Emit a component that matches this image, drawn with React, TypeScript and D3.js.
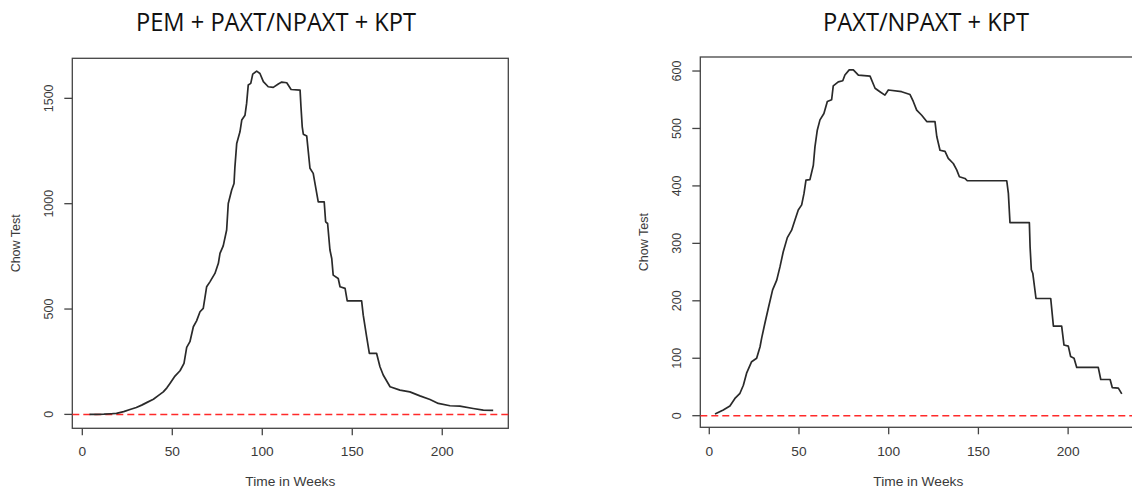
import React from "react";
import * as d3 from "d3";

// ---- Data ----
const leftTitle = "PEM + PAXT/NPAXT + KPT";
const rightTitle = "PAXT/NPAXT + KPT";
const xLabel = "Time in Weeks";
const yLabel = "Chow Test";

const xTicks = [0, 50, 100, 150, 200];
const leftYTicks = [0, 500, 1000, 1500];
const rightYTicks = [0, 100, 200, 300, 400, 500, 600];

const leftWeeks = [4, 8, 12, 16, 19, 23, 26.5, 30, 33, 36, 39.5, 42, 45, 47, 48.7, 51.5, 54.3, 56.5, 58, 59.8, 61.7, 63.5, 65.4, 67.2, 69.1, 70.9, 73.7, 75.6, 76.5, 78.3, 80.2, 81.1, 83, 84.3, 84.8, 85.8, 87.6, 88.6, 90.4, 91.3, 92.2, 93.6, 94.7, 96.9, 98.7, 100.6, 103.3, 106.1, 108.9, 110.8, 113.6, 116, 121, 121.5, 122.2, 122.8, 124.7, 126.5, 128.3, 131.1, 134.4, 135.2, 136.3, 137.6, 138.6, 139.4, 142.2, 143.2, 146, 147.2, 155.2, 156.1, 158, 159.5, 163.5, 165.4, 167.2, 171, 176.5, 182, 187.6, 193.2, 197.8, 204.3, 209.8, 217.2, 222.8, 228.3];
const leftChow = [0, 0, 1, 3, 5, 13, 23, 33, 44, 57, 72, 88, 107, 126, 147, 182, 207, 242, 318, 345, 416, 444, 487, 503, 606, 629, 669, 717, 764, 800, 875, 1001, 1065, 1096, 1175, 1286, 1341, 1397, 1420, 1476, 1563, 1571, 1615, 1629, 1618, 1579, 1555, 1552, 1568, 1577, 1574, 1542, 1539, 1460, 1365, 1330, 1321, 1168, 1144, 1009, 1009, 914, 906, 780, 740, 661, 645, 606, 598, 539, 539, 471, 368, 290, 290, 226, 187, 131, 115, 107, 88, 71, 52, 41, 39, 28, 20, 19];

const rightWeeks = [3.2, 7.8, 11.5, 14.3, 17.1, 19, 20.8, 23.6, 26.4, 28.3, 29.2, 31, 32.9, 35.3, 37.6, 39.4, 41.2, 43.5, 45.9, 47.8, 49.6, 51.5, 52.8, 53.9, 56.1, 58, 58.9, 60.2, 61.7, 63.9, 65.8, 68.2, 69.1, 71.9, 74.4, 75.6, 78, 80.3, 83.1, 89.6, 92.4, 95.1, 97.9, 99.8, 107.2, 111.9, 113.7, 115.6, 118.4, 121.2, 125.8, 126.8, 128.6, 131.4, 133.2, 136, 137.9, 139.4, 142.5, 143.8, 165.8, 166.7, 167.6, 178.4, 178.8, 179.5, 180.3, 182.1, 190.3, 191.8, 196.4, 197.7, 200.1, 201.4, 203.3, 204.8, 216.8, 218.2, 223.4, 224.6, 228, 229.9];
const rightChow = [3, 10, 17, 30, 39, 53, 74, 94, 100, 120, 135, 161, 187, 219, 236, 259, 285, 310, 323, 341, 358, 367, 387, 410, 411, 436, 468, 497, 515, 526, 547, 550, 574, 581, 583, 593, 602, 602, 593, 591, 570, 564, 558, 567, 564, 559, 547, 532, 523, 512, 512, 486, 462, 460, 448, 439, 428, 416, 413, 409, 409, 387, 336, 336, 294, 254, 248, 204, 204, 156, 156, 123, 121, 103, 100, 84, 84, 63, 63, 49, 48, 38];

type PanelProps = {
  title: string;
  titleX: number;
  titleLen: number;
  weeks: number[];
  chow: number[];
  yTicks: number[];
  box: { x0: number; x1: number; y0: number; y1: number };
  xDomain: [number, number];
  yDomain: [number, number];
};

const textColor = "#3a3a3a";

function Panel(p: PanelProps) {
  const x = d3.scaleLinear().domain(p.xDomain).range([p.box.x0, p.box.x1]);
  const y = d3.scaleLinear().domain(p.yDomain).range([p.box.y1, p.box.y0]);
  const pts: [number, number][] = p.weeks.map((w, i) => [w, p.chow[i]]);
  const line = d3
    .line<[number, number]>()
    .x((d) => x(d[0]))
    .y((d) => y(d[1]));
  const cx = (p.box.x0 + p.box.x1) / 2;
  const cy = (p.box.y0 + p.box.y1) / 2;
  const labX = p.box.x0 - 24;
  return (
    <g>
      <text
        x={p.titleX}
        y={31}
        textAnchor="middle"
        fontFamily="'Liberation Sans Narrow', 'Open Sans', sans-serif"
        fontSize={25}
        fill="#111"
        textLength={p.titleLen}
        lengthAdjust="spacingAndGlyphs"
      >
        {p.title}
      </text>
      <rect
        x={p.box.x0}
        y={p.box.y0}
        width={p.box.x1 - p.box.x0}
        height={p.box.y1 - p.box.y0}
        fill="none"
        stroke="#444"
        strokeWidth={1.3}
      />
      <line
        x1={p.box.x0}
        x2={p.box.x1}
        y1={y(0)}
        y2={y(0)}
        stroke="#ff2a2a"
        strokeWidth={1.5}
        strokeDasharray="7,4"
      />
      <path d={line(pts) || ""} fill="none" stroke="#2a2a2a" strokeWidth={1.7} strokeLinejoin="round" />
      {xTicks.map((t) => (
        <g key={"x" + t}>
          <line x1={x(t)} x2={x(t)} y1={p.box.y1} y2={p.box.y1 + 7} stroke="#444" strokeWidth={1.3} />
          <text
            transform={`translate(${x(t)},456) scale(1.1,1)`}
            textAnchor="middle"
            fontFamily="'Liberation Sans', Arial, sans-serif"
            fontSize={12.5}
            fill={textColor}
          >
            {t}
          </text>
        </g>
      ))}
      {p.yTicks.map((t) => (
        <g key={"y" + t}>
          <line x1={p.box.x0 - 8} x2={p.box.x0} y1={y(t)} y2={y(t)} stroke="#444" strokeWidth={1.3} />
          <text
            transform={`translate(${labX + 4.5},${y(t)}) rotate(-90)`}
            textAnchor="middle"
            fontFamily="'Liberation Sans', Arial, sans-serif"
            fontSize={12.5}
            fill={textColor}
          >
            {t}
          </text>
        </g>
      ))}
      <text
        transform={`translate(${cx},486) scale(1.1,1)`}
        textAnchor="middle"
        fontFamily="'Liberation Sans', Arial, sans-serif"
        fontSize={12.5}
        fill={textColor}
      >
        {xLabel}
      </text>
      <text
        transform={`translate(${p.box.x0 - 52},${cy}) rotate(-90)`}
        textAnchor="middle"
        fontFamily="'Liberation Sans', Arial, sans-serif"
        fontSize={12.5}
        fill={textColor}
      >
        {yLabel}
      </text>
    </g>
  );
}

export default function App() {
  return (
    <svg
      width={1132}
      height={492}
      style={{ position: "absolute", left: 0, top: 0, background: "#fff" }}
    >
      <rect width={1132} height={492} fill="#fff" />
      <Panel
        title={leftTitle}
        titleX={276}
        titleLen={280}
        weeks={leftWeeks}
        chow={leftChow}
        yTicks={leftYTicks}
        box={{ x0: 72.3, x1: 508.3, y0: 58.3, y1: 428.3 }}
        xDomain={[-5.56, 236.7]}
        yDomain={[-66, 1690]}
      />
      <Panel
        title={rightTitle}
        titleX={926}
        titleLen={206}
        weeks={rightWeeks}
        chow={rightChow}
        yTicks={rightYTicks}
        box={{ x0: 700.3, x1: 1136.3, y0: 57, y1: 427.3 }}
        xDomain={[-5.0, 238.0]}
        yDomain={[-20.2, 624.4]}
      />
    </svg>
  );
}
